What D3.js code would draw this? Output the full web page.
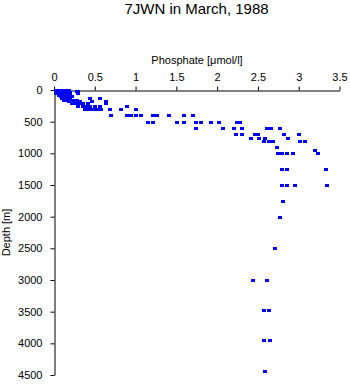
<!DOCTYPE html>
<html>
<head>
<meta charset="utf-8">
<script src="https://cdn.jsdelivr.net/npm/d3@7"></script>
<style>
  html, body { margin: 0; padding: 0; background: #fff; }
  svg { display: block; font-family: "Liberation Sans", Arial, Helvetica, sans-serif; }
</style>
</head>
<body>
<svg id="chart" width="350" height="384"></svg>
<script>
// ---- data ----
const title = "7JWN in March, 1988";
const xLabel = "Phosphate [\u03bcmol/l]";
const yLabel = "Depth [m]";
const xTicks = [0, 0.5, 1, 1.5, 2, 2.5, 3, 3.5];
const yTicks = [0, 500, 1000, 1500, 2000, 2500, 3000, 3500, 4000, 4500];

// sample depth levels [m] and the phosphate values [umol/l] observed at each level
const depthLevels = [0, 10, 20, 30, 40, 50, 75, 100, 125, 150, 175, 200, 250, 300,
  400, 500, 600, 700, 750, 800, 900, 950, 1000, 1250, 1500, 1750, 2000, 2500,
  3000, 3470, 3950, 4430];
const phosphateAtLevel = [
  [0.02, 0.05, 0.08, 0.11, 0.14, 0.17, 0.19],
  [0.03, 0.06, 0.09, 0.12, 0.15, 0.18, 0.28],
  [0.02, 0.05, 0.08, 0.10, 0.13, 0.17, 0.30],
  [0.04, 0.07, 0.10, 0.12, 0.16, 0.20],
  [0.03, 0.06, 0.09, 0.13, 0.16, 0.19],
  [0.05, 0.08, 0.11, 0.14, 0.18, 0.29],
  [0.06, 0.09, 0.12, 0.15, 0.20],
  [0.08, 0.11, 0.14, 0.17, 0.22],
  [0.10, 0.13, 0.16, 0.20, 0.44, 0.56],
  [0.12, 0.16, 0.20, 0.24, 0.28],
  [0.18, 0.22, 0.26, 0.32, 0.46, 0.64],
  [0.22, 0.27, 0.31, 0.36, 0.42, 0.64],
  [0.30, 0.35, 0.40, 0.44, 0.50, 0.56, 0.89],
  [0.38, 0.42, 0.46, 0.50, 0.54, 0.58, 0.69, 0.82, 1.00],
  [0.70, 0.89, 0.95, 1.00, 1.07, 1.21, 1.26, 1.41, 1.59, 1.70],
  [1.15, 1.21, 1.51, 1.59, 1.74, 1.80, 1.92, 2.02, 2.24, 2.28],
  [1.74, 2.07, 2.21, 2.31, 2.61, 2.66, 2.77],
  [2.23, 2.31, 2.46, 2.50, 2.82, 3.00],
  [2.41, 2.51, 2.59, 2.87],
  [2.57, 2.63, 2.68, 3.02, 3.08],
  [2.73],
  [3.20],
  [2.75, 2.80, 2.86, 2.93, 3.24],
  [2.80, 2.86, 3.33],
  [2.80, 2.86, 2.95, 3.35],
  [2.81],
  [2.77],
  [2.71],
  [2.44, 2.61],
  [2.57, 2.64],
  [2.57, 2.65],
  [2.59]
];

// ---- build point table ----
const points = [];
depthLevels.forEach((d, i) => phosphateAtLevel[i].forEach(p => points.push({p, d})));

const svg = d3.select("#chart");
const x = d3.scaleLinear().domain([0, 3.5]).range([54, 339.5]);
const y = d3.scaleLinear().domain([0, 4500]).range([90, 375]);

// title
svg.append("text")
  .attr("x", 196.5).attr("y", 13.5)
  .attr("text-anchor", "middle")
  .attr("font-size", 15)
  .text(title);

// x axis (top)
const gx = svg.append("g")
  .attr("transform", "translate(0,90.5)")
  .call(d3.axisTop(x).tickValues(xTicks).tickSize(4).tickSizeOuter(0).tickPadding(6)
        .tickFormat(d => String(d)));
gx.selectAll("text").attr("font-size", 11).attr("fill", "#000").attr("font-family", null);
gx.selectAll("line, path").attr("stroke", "#000");

svg.append("text")
  .attr("x", 197).attr("y", 63.5)
  .attr("text-anchor", "middle")
  .attr("font-size", 11)
  .text(xLabel);

// y axis (left)
const gy = svg.append("g")
  .attr("transform", "translate(54.5,0)")
  .call(d3.axisLeft(y).tickValues(yTicks).tickSize(4).tickSizeOuter(0).tickPadding(8)
        .tickFormat(d => String(d)));
gy.selectAll("text").attr("font-size", 11).attr("fill", "#000").attr("font-family", null);
gy.selectAll("line, path").attr("stroke", "#000");

svg.append("text")
  .attr("transform", "translate(10,232.5) rotate(-90)")
  .attr("text-anchor", "middle")
  .attr("font-size", 11)
  .text(yLabel);

// points
svg.append("g").selectAll("rect")
  .data(points)
  .join("rect")
  .attr("x", d => Math.round(x(d.p)) - 2)
  .attr("y", d => Math.round(y(d.d)) - 1)
  .attr("width", 4)
  .attr("height", 3)
  .attr("fill", "#0000ff");
</script>
</body>
</html>
